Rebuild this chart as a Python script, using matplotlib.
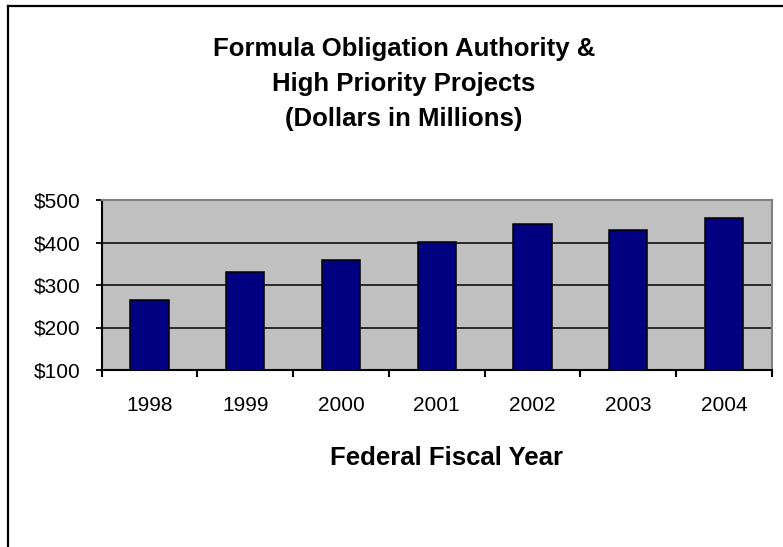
import matplotlib.pyplot as plt
import numpy as np
from matplotlib.lines import Line2D

# Data (dollars in millions)
years = ["1998", "1999", "2000", "2001", "2002", "2003", "2004"]
amounts = [264, 330, 358, 401, 443, 429, 457]
y_ticks = [100, 200, 300, 400, 500]
y_labels = ["$100", "$200", "$300", "$400", "$500"]

W, H = 783, 547
plt.rcParams["font.family"] = ["Liberation Sans", "DejaVu Sans"]

fig = plt.figure(figsize=(W / 100, H / 100), dpi=100)
fig.patch.set_facecolor("white")

# Plot area in pixel coordinates
left, right, top, bottom = 101.7, 771.7, 200, 370
ax = fig.add_axes([left / W, 1 - bottom / H, (right - left) / W, (bottom - top) / H])
ax.set_facecolor("#C0C0C0")

x = np.arange(len(years))
ax.bar(x, amounts, width=0.4, color="#000080", edgecolor="black", linewidth=1.1, zorder=3)

ax.set_xlim(-0.5, len(years) - 0.5)
ax.set_ylim(100, 500)

# Y axis
ax.set_yticks(y_ticks)
ax.set_yticklabels(y_labels, fontsize=15)
ax.tick_params(axis="y", direction="out", length=4.5, width=1.3, pad=10.5, colors="black")
ax.grid(axis="y", color="black", linewidth=1.1, zorder=1)
ax.set_axisbelow(True)

# X axis: labels at centres, tick marks at category boundaries
ax.set_xticks(x)
ax.set_xticklabels(years, fontsize=15)
ax.set_xticks(np.arange(-0.5, len(years)), minor=True)
ax.tick_params(axis="x", which="major", length=0, pad=19)
ax.tick_params(axis="x", which="minor", direction="out", length=5, width=1.5)

for side in ["left", "bottom"]:
    ax.spines[side].set_color("black")
    ax.spines[side].set_linewidth(1.5)
for side in ["top", "right"]:
    ax.spines[side].set_color("#808080")
    ax.spines[side].set_linewidth(1.5)

# Title lines
title_lines = ["Formula Obligation Authority &", "High Priority Projects", "(Dollars in Millions)"]
for i, line in enumerate(title_lines):
    fig.text(404 / W, 1 - (56 + 35 * i) / H, line, fontsize=18.5, fontweight="bold",
             ha="center", va="baseline")

fig.text(446 / W, 1 - 465 / H, "Federal Fiscal Year", fontsize=18.5, fontweight="bold",
         ha="center", va="baseline")

# Outer chart frame (only left and top edges are visible)
fx, fy = 7.7 / W, 1 - 6 / H
fig.add_artist(Line2D([fx, fx], [0, fy], transform=fig.transFigure, color="black", lw=1.6))
fig.add_artist(Line2D([fx, 1], [fy, fy], transform=fig.transFigure, color="black", lw=1.6))

fig.savefig("out.png", dpi=100)
